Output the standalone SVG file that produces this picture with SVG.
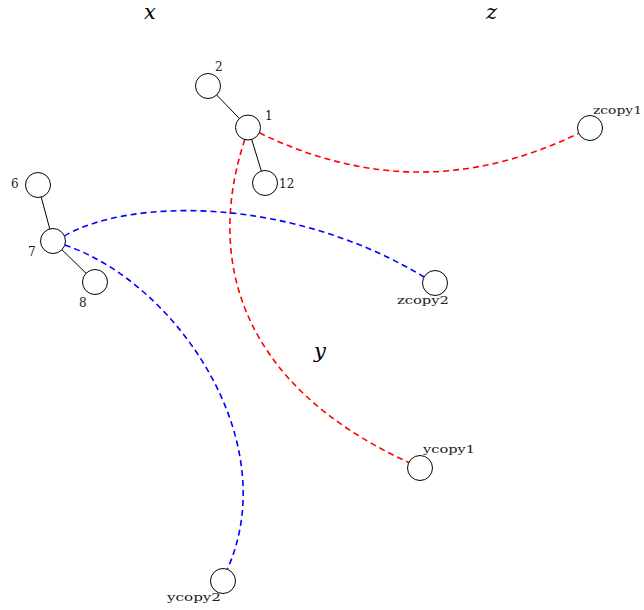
<svg xmlns="http://www.w3.org/2000/svg" width="644" height="610" viewBox="0 0 644 610">
<style>
.node circle{fill:#fff;stroke:#000;stroke-width:1}
.edge{stroke:#000;stroke-width:1;fill:none}
.red{stroke:#ff0000;stroke-width:1.6;fill:none;stroke-dasharray:6 4}
.blue{stroke:#0000ff;stroke-width:1.6;fill:none;stroke-dasharray:6 4}
.lbl{font-family:"DejaVu Serif","Liberation Serif",serif;font-size:11px;fill:#222}
.dig{font-family:"DejaVu Serif","Liberation Serif",serif;font-size:12px;fill:#222}
.big{font-family:"DejaVu Serif",serif;font-style:italic;font-size:21px;fill:#000}
</style>
<rect width="644" height="610" fill="#fff"/>
<g id="titles">
<text class="big" x="144" y="19">x</text>
<text class="big" x="486" y="19">z</text>
<text class="big" x="314" y="358">y</text>
</g>
<g id="connectors">
<line class="edge" x1="208" y1="86" x2="248" y2="127.5"/>
<line class="edge" x1="248" y1="127.5" x2="265" y2="183"/>
<line class="edge" x1="38" y1="185" x2="53" y2="241"/>
<line class="edge" x1="53" y1="241" x2="95" y2="282"/>
<path class="red" d="M259.3,132.8 Q419,211 578.7,133.3"/>
<path class="red" d="M244.8,139.6 C205,260 240,385 408.8,462.5"/>
<path class="blue" d="M64.4,235.9 C130,198 290,196 424,277"/>
<path class="blue" d="M64.8,245 C175,282 285,440 227.3,569.3"/>
</g>
<g id="n2" class="node"><circle cx="208" cy="86" r="12.5"/><text class="dig" x="215" y="71">2</text></g>
<g id="n1" class="node"><circle cx="248" cy="127.5" r="12.5"/><text class="dig" x="265" y="120">1</text></g>
<g id="n12" class="node"><circle cx="265" cy="183" r="12.5"/><text class="dig" x="279" y="188">12</text></g>
<g id="n6" class="node"><circle cx="38" cy="185" r="12.5"/><text class="dig" x="11" y="188">6</text></g>
<g id="n7" class="node"><circle cx="53" cy="241" r="12.5"/><text class="dig" x="28" y="256">7</text></g>
<g id="n8" class="node"><circle cx="95" cy="282" r="12.5"/><text class="dig" x="79" y="307">8</text></g>
<g id="zcopy1" class="node"><circle cx="590" cy="128" r="12.5"/><text class="lbl" x="593" y="114" textLength="49" lengthAdjust="spacingAndGlyphs">zcopy1</text></g>
<g id="zcopy2" class="node"><circle cx="435" cy="283" r="12.5"/><text class="lbl" x="397" y="304" textLength="52" lengthAdjust="spacingAndGlyphs">zcopy2</text></g>
<g id="ycopy1" class="node"><circle cx="420" cy="468" r="12.5"/><text class="lbl" x="423" y="453" textLength="52" lengthAdjust="spacingAndGlyphs">ycopy1</text></g>
<g id="ycopy2" class="node"><circle cx="223" cy="581" r="12.5"/><text class="lbl" x="167" y="601" textLength="54" lengthAdjust="spacingAndGlyphs">ycopy2</text></g>
</svg>
